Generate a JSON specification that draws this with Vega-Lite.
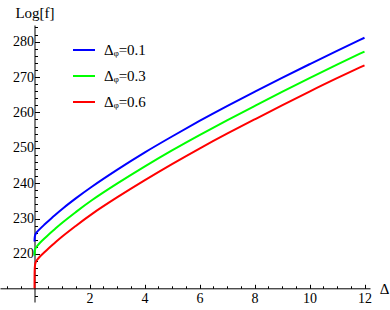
{
  "$schema": "https://vega.github.io/schema/vega-lite/v6.json",
  "width": 370,
  "height": 277,
  "autosize": {"type": "none"},
  "padding": {"left": 0, "top": 25, "right": 20, "bottom": 8},
  "background": "white",
  "config": {
    "view": {"stroke": null},
    "font": "Liberation Serif",
    "axis": {"labelFont": "Liberation Serif", "titleFont": "Liberation Serif", "labelColor": "black", "titleColor": "black", "domainColor": "black", "tickColor": "black", "grid": false, "labelFontSize": 14, "titleFontSize": 15, "titleFontWeight": "normal"},
    "legend": {"labelFont": "Liberation Serif", "labelFontSize": 15, "labelColor": "black"}
  },
  "data": {"values": [
    {"d": 0, "phi": "0.1", "v": 223.5}, {"d": 0.005, "phi": "0.1", "v": 224.6}, {"d": 0.02, "phi": "0.1", "v": 225.3}, {"d": 0.05, "phi": "0.1", "v": 225.8}, {"d": 0.1, "phi": "0.1", "v": 226.3}, {"d": 0.2, "phi": "0.1", "v": 227.1}, {"d": 0.35, "phi": "0.1", "v": 228.2}, {"d": 0.5, "phi": "0.1", "v": 229.3}, {"d": 0.75, "phi": "0.1", "v": 231.0}, {"d": 1, "phi": "0.1", "v": 232.7}, {"d": 1.5, "phi": "0.1", "v": 235.7}, {"d": 2, "phi": "0.1", "v": 238.6}, {"d": 3, "phi": "0.1", "v": 243.8}, {"d": 4, "phi": "0.1", "v": 248.7}, {"d": 5, "phi": "0.1", "v": 253.2}, {"d": 6, "phi": "0.1", "v": 257.6}, {"d": 7, "phi": "0.1", "v": 261.8}, {"d": 8, "phi": "0.1", "v": 265.8}, {"d": 9, "phi": "0.1", "v": 269.8}, {"d": 10, "phi": "0.1", "v": 273.6}, {"d": 11, "phi": "0.1", "v": 277.4}, {"d": 12, "phi": "0.1", "v": 281.1},
    {"d": 0, "phi": "0.3", "v": 219.5}, {"d": 0.005, "phi": "0.3", "v": 220.6}, {"d": 0.02, "phi": "0.3", "v": 221.3}, {"d": 0.05, "phi": "0.3", "v": 221.8}, {"d": 0.1, "phi": "0.3", "v": 222.3}, {"d": 0.2, "phi": "0.3", "v": 223.2}, {"d": 0.35, "phi": "0.3", "v": 224.3}, {"d": 0.5, "phi": "0.3", "v": 225.4}, {"d": 0.75, "phi": "0.3", "v": 227.1}, {"d": 1, "phi": "0.3", "v": 228.8}, {"d": 1.5, "phi": "0.3", "v": 231.8}, {"d": 2, "phi": "0.3", "v": 234.8}, {"d": 3, "phi": "0.3", "v": 239.9}, {"d": 4, "phi": "0.3", "v": 244.7}, {"d": 5, "phi": "0.3", "v": 249.3}, {"d": 6, "phi": "0.3", "v": 253.6}, {"d": 7, "phi": "0.3", "v": 257.8}, {"d": 8, "phi": "0.3", "v": 261.8}, {"d": 9, "phi": "0.3", "v": 265.8}, {"d": 10, "phi": "0.3", "v": 269.7}, {"d": 11, "phi": "0.3", "v": 273.5}, {"d": 12, "phi": "0.3", "v": 277.2},
    {"d": 0, "phi": "0.6", "v": 210.3}, {"d": 0.002, "phi": "0.6", "v": 214.0}, {"d": 0.005, "phi": "0.6", "v": 215.6}, {"d": 0.02, "phi": "0.6", "v": 217.2}, {"d": 0.05, "phi": "0.6", "v": 217.9}, {"d": 0.1, "phi": "0.6", "v": 218.4}, {"d": 0.2, "phi": "0.6", "v": 219.3}, {"d": 0.35, "phi": "0.6", "v": 220.4}, {"d": 0.5, "phi": "0.6", "v": 221.5}, {"d": 0.75, "phi": "0.6", "v": 223.2}, {"d": 1, "phi": "0.6", "v": 224.9}, {"d": 1.5, "phi": "0.6", "v": 227.9}, {"d": 2, "phi": "0.6", "v": 230.9}, {"d": 3, "phi": "0.6", "v": 236.0}, {"d": 4, "phi": "0.6", "v": 240.8}, {"d": 5, "phi": "0.6", "v": 245.4}, {"d": 6, "phi": "0.6", "v": 249.8}, {"d": 7, "phi": "0.6", "v": 254.0}, {"d": 8, "phi": "0.6", "v": 258.0}, {"d": 9, "phi": "0.6", "v": 262.0}, {"d": 10, "phi": "0.6", "v": 265.9}, {"d": 11, "phi": "0.6", "v": 269.7}, {"d": 12, "phi": "0.6", "v": 273.3}
  ]},
  "mark": {"type": "line", "strokeWidth": 2, "interpolate": "basis"},
  "encoding": {
    "x": {
      "field": "d", "type": "quantitative",
      "scale": {"domain": [-1.255, 12.2], "nice": false, "zero": false},
      "axis": {
        "orient": "bottom", "offset": -13.7,
        "values": [-1, -0.5, 0.5, 1, 1.5, 2, 2.5, 3, 3.5, 4, 4.5, 5, 5.5, 6, 6.5, 7, 7.5, 8, 8.5, 9, 9.5, 10, 10.5, 11, 11.5, 12],
        "labelExpr": "datum.value > 0 && datum.value % 2 === 0 ? format(datum.value, 'd') : ''",
        "tickSize": {"condition": {"test": "datum.value % 2 === 0", "value": -4}, "value": -2.5},
        "labelPadding": 7,
        "labelFlush": false,
        "labelOverlap": false,
        "title": "Δ", "titleX": 384, "titleY": 5, "titleAlign": "center", "titleBaseline": "alphabetic", "titleAnchor": null
      }
    },
    "y": {
      "field": "v", "type": "quantitative",
      "scale": {"domain": [206.4, 284.7], "nice": false, "zero": false},
      "axis": {
        "orient": "left", "offset": -34.5,
        "values": [208, 212, 214, 216, 218, 220, 222, 224, 226, 228, 230, 232, 234, 236, 238, 240, 242, 244, 246, 248, 250, 252, 254, 256, 258, 260, 262, 264, 266, 268, 270, 272, 274, 276, 278, 280, 282, 284],
        "labelExpr": "datum.value % 10 === 0 ? format(datum.value, 'd') : ''",
        "tickSize": {"condition": {"test": "datum.value % 10 === 0", "value": -5}, "value": -3},
        "labelPadding": 6,
        "labelFlush": false,
        "labelOverlap": false,
        "title": "Log[f]", "titleAngle": 0, "titleX": 0, "titleY": -8, "titleAlign": "center", "titleBaseline": "alphabetic", "titleAnchor": null
      }
    },
    "color": {
      "field": "phi", "type": "nominal",
      "scale": {"domain": ["0.1", "0.3", "0.6"], "range": ["#0000ff", "#00ff00", "#ff0000"]},
      "legend": {
        "title": null, "orient": "none", "legendX": 72, "legendY": 13,
        "symbolType": "stroke", "symbolSize": 484, "symbolStrokeWidth": 2,
        "labelOffset": 8, "rowPadding": 6, "padding": 0,
        "labelExpr": "'Δᵩ=' + datum.label"
      }
    }
  }
}
